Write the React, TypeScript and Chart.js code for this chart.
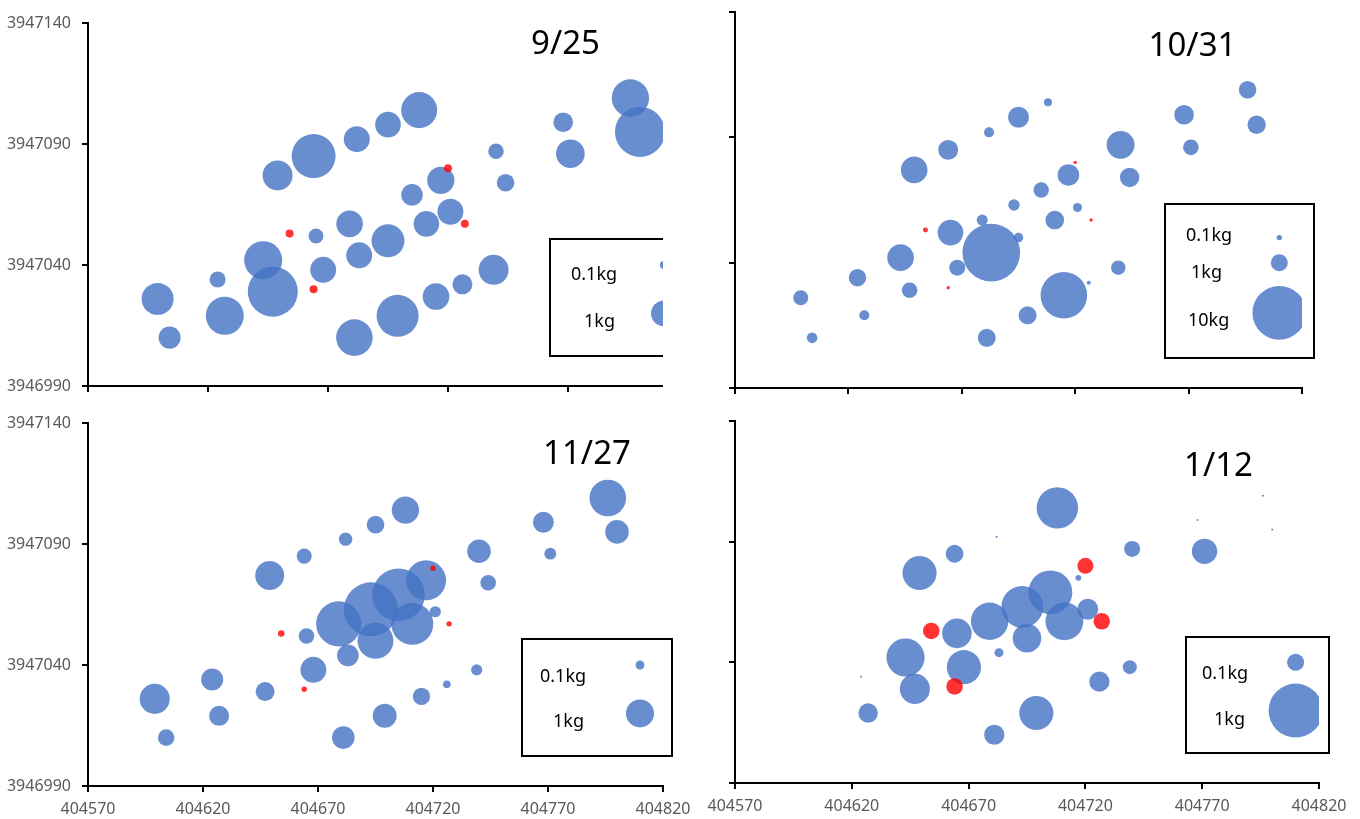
import React, { useEffect, useRef } from "react";
import { Chart, registerables } from "chart.js";

Chart.register(...registerables);

// Sampling locations (shared by all four survey dates)
const sampleX = [
  404599, 404604, 404624, 404627, 404643, 404647, 404649, 404664, 404665, 404668,
  404682, 404695, 404708, 404679, 404683, 404695, 404681, 404699, 404715, 404726,
  404739, 404705, 404717, 404711, 404721, 404740, 404744, 404768, 404771, 404796,
  404800, 404693,
];
const sampleY = [
  3947026, 3947010, 3947034, 3947019, 3947042, 3947029, 3947077, 3947085, 3947052, 3947038,
  3947092, 3947098, 3947104, 3947057, 3947044, 3947050, 3947010, 3947019, 3947027, 3947032,
  3947038, 3947069, 3947075, 3947057, 3947062, 3947087, 3947074, 3947099, 3947086, 3947109,
  3947095, 3947063,
];

// Mass (kg) at each location per date (null = none)
const massSep25 = [
  1.51, 0.72, 0.38, 2.14, 2.14, 3.7, 1.33, 2.86, 0.33, 1.0,
  1.0, 0.97, 1.92, 1.05, 1.0, 1.61, 1.98, 2.61, 1.05, 0.59,
  1.33, 0.69, 1.1, 0.97, 1.0, 0.35, 0.46, 0.57, 1.21, 2.06,
  3.7, null,
];
const massOct31 = [
  0.78, 0.39, 1.05, 0.35, 2.45, 0.84, 2.45, 1.38, 2.27, 0.89,
  0.35, 1.53, 0.22, 0.42, 11.5, 0.31, 1.12, 1.12, 7.5, 0.055,
  0.72, 0.82, 1.61, 1.2, 0.28, 2.7, 1.3, 1.33, 0.84, 1.07,
  1.17, 0.45,
];
const massNov27 = [
  1.15, 0.35, 0.62, 0.51, null, 0.46, 1.07, 0.29, 0.31, 0.86,
  0.23, 0.4, 0.95, 2.6, 0.6, 1.65, 0.65, 0.73, 0.38, 0.075,
  0.16, 3.53, 2.04, 2.25, 0.16, 0.71, 0.31, 0.56, 0.18, 1.71,
  0.71, 3.72,
];
const massJan12 = [
  null, null, 0.0015, 0.13, 0.5, 0.31, 0.4, 0.11, 0.3, 0.4,
  0.0015, null, 0.59, 0.48, 0.028, 0.28, 0.14, 0.4, null, 0.14,
  0.067, 0.66, 0.012, 0.49, 0.15, 0.088, null, 0.0015, 0.22, 0.0015,
  0.0015, 0.6,
];

// Red-marked locations and their masses (kg)
const redX = [404654, 404664, 404720, 404727];
const redY = [3947053, 3947030, 3947080, 3947057];
const redSep25 = [0.095, 0.095, 0.095, 0.095];
const redOct31 = [0.086, 0.04, 0.04, 0.04];
const redNov27 = [0.056, 0.037, 0.037, 0.037];
const redJan12 = [0.094, 0.094, 0.088, 0.094];

// Size-legend entries
const legendX = 404810;
const legendKgShort = [0.1, 1];
const legendYShort = [3947040, 3947020];
const legendKgLong = [0.1, 1, 10];
const legendYLong = [3947050, 3947040, 3947020];

const xTickLabels = ["404570", "404620", "404670", "404720", "404770", "404820"];
const yTickLabels = ["3946990", "3947040", "3947090", "3947140"];
const panelTitles = ["9/25", "10/31", "11/27", "1/12"];

const FONT = '"Noto Sans", "Open Sans", sans-serif';
const BLUE = "rgba(68,114,196,0.8)";
const RED = "rgba(255,0,0,0.8)";

type PanelCfg = {
  title: string;
  mass: (number | null)[];
  red: number[];
  legendKg: number[];
  legendY: number[];
  k: number;
  L: number; T: number; R: number; B: number;
  showX: boolean; showY: boolean;
  crop?: number;
  titlePos: [number, number];
  box: [number, number, number, number];
  textPos: [number, number][];
};

const panels: PanelCfg[] = [
  {
    title: panelTitles[0], mass: massSep25, red: redSep25, legendKg: legendKgShort, legendY: legendYShort,
    k: 13, L: 88, T: 23, R: 688, B: 386, showX: false, showY: true, crop: 663,
    titlePos: [565.5, 54], box: [550, 239, 697, 356], textPos: [[571, 280], [584, 326.5]],
  },
  {
    title: panelTitles[1], mass: massOct31, red: redOct31, legendKg: legendKgLong, legendY: legendYLong,
    k: 8.5, L: 735, T: 12, R: 1302, B: 388, showX: false, showY: false,
    titlePos: [1192.5, 56], box: [1165, 204, 1314, 358], textPos: [[1186, 241], [1191, 278], [1188, 326]],
  },
  {
    title: panelTitles[2], mass: massNov27, red: redNov27, legendKg: legendKgShort, legendY: legendYShort,
    k: 14, L: 88, T: 423, R: 663, B: 786, showX: true, showY: true,
    titlePos: [587, 464], box: [522, 639, 672, 756], textPos: [[540, 681.5], [553, 727]],
  },
  {
    title: panelTitles[3], mass: massJan12, red: redJan12, legendKg: legendKgShort, legendY: legendYShort,
    k: 27, L: 735, T: 421, R: 1319, B: 783, showX: true, showY: false,
    titlePos: [1218.5, 476], box: [1186, 637, 1329, 753], textPos: [[1202, 679], [1214, 725]],
  },
];

function Panel({ cfg }: { cfg: PanelCfg }) {
  const ref = useRef<HTMLCanvasElement>(null);
  useEffect(() => {
    if (!ref.current) return;
    const rad = (kg: number) => cfg.k * Math.sqrt(kg);
    const blue = sampleX
      .map((x, i) => (cfg.mass[i] == null ? null : { x, y: sampleY[i], r: rad(cfg.mass[i] as number) }))
      .filter(Boolean) as { x: number; y: number; r: number }[];
    const red = redX.map((x, i) => ({ x, y: redY[i], r: rad(cfg.red[i]) }));
    const legend = cfg.legendKg.map((kg, i) => ({ x: legendX, y: cfg.legendY[i], r: rad(kg) }));

    const yW = cfg.showY ? cfg.L : 20;
    const xH = cfg.showX ? 40 : 12;

    const decor = {
      id: "decor",
      beforeDatasetsDraw(chart: any) {
        const ctx = chart.ctx;
        const [x1, y1, x2, y2] = cfg.box;
        ctx.save();
        ctx.strokeStyle = "#000";
        ctx.lineWidth = 2;
        ctx.strokeRect(x1, y1, x2 - x1, y2 - y1);
        ctx.restore();
      },
      afterDraw(chart: any) {
        const ctx = chart.ctx;
        ctx.save();
        ctx.fillStyle = "#000";
        ctx.textBaseline = "alphabetic";
        ctx.textAlign = "center";
        ctx.font = `33px ${FONT}`;
        ctx.fillText(cfg.title, cfg.titlePos[0], cfg.titlePos[1]);
        ctx.textAlign = "left";
        ctx.font = `18px ${FONT}`;
        cfg.legendKg.forEach((kg, i) => {
          ctx.fillText(`${kg}kg`, cfg.textPos[i][0], cfg.textPos[i][1]);
        });
        ctx.restore();
      },
    };

    const gridCfg = {
      display: true,
      drawOnChartArea: false,
      drawTicks: true,
      tickLength: 6,
      tickWidth: 2,
      tickColor: "#000",
      color: "#000",
      lineWidth: 2,
    };

    const chart = new Chart(ref.current, {
      type: "bubble",
      data: {
        datasets: [
          { label: "red", data: red, backgroundColor: RED, borderWidth: 0, clip: 0 } as any,
          { label: "mass", data: blue, backgroundColor: BLUE, borderWidth: 0, clip: 0 } as any,
          { label: "legend", data: legend, backgroundColor: BLUE, borderWidth: 0, clip: 0 } as any,
        ],
      },
      options: {
        responsive: false,
        animation: false,
        devicePixelRatio: 1,
        events: [],
        layout: {
          autoPadding: false,
          padding: {
            left: cfg.L - yW,
            top: cfg.T,
            right: 1360 - cfg.R,
            bottom: 819 - cfg.B - xH,
          },
        },
        plugins: { legend: { display: false }, tooltip: { enabled: false }, title: { display: false } },
        scales: {
          x: {
            type: "linear",
            position: "bottom",
            min: 404570,
            max: 404820,
            afterFit: (s: any) => { s.height = xH; },
            ticks: {
              stepSize: 50,
              display: cfg.showX,
              autoSkip: false,
              maxRotation: 0,
              padding: 8,
              color: "#595959",
              font: { family: FONT, size: 16 },
              callback: (_v: any, i: number) => xTickLabels[i],
            },
            grid: gridCfg,
            border: { display: true, color: "#000", width: 2 },
          },
          y: {
            type: "linear",
            position: "left",
            min: 3946990,
            max: 3947140,
            afterFit: (s: any) => { s.width = yW; },
            ticks: {
              stepSize: 50,
              display: cfg.showY,
              autoSkip: false,
              padding: 11,
              color: "#595959",
              font: { family: FONT, size: 16 },
              callback: (_v: any, i: number) => yTickLabels[i],
            },
            grid: gridCfg,
            border: { display: true, color: "#000", width: 2 },
          },
        },
      } as any,
      plugins: [decor],
    });
    return () => chart.destroy();
  }, [cfg]);

  const canvas = (
    <canvas ref={ref} width={1360} height={819} style={{ position: "absolute", left: 0, top: 0, display: "block" }} />
  );
  if (cfg.crop) {
    return (
      <div style={{ position: "absolute", left: 0, top: 0, width: cfg.crop, height: 819, overflow: "hidden" }}>
        {canvas}
      </div>
    );
  }
  return canvas;
}

export default function App() {
  return (
    <div style={{ position: "fixed", left: 0, top: 0, width: 1360, height: 819, overflow: "hidden", background: "#fff" }}>
      {panels.map((p) => (
        <Panel key={p.title} cfg={p} />
      ))}
    </div>
  );
}
